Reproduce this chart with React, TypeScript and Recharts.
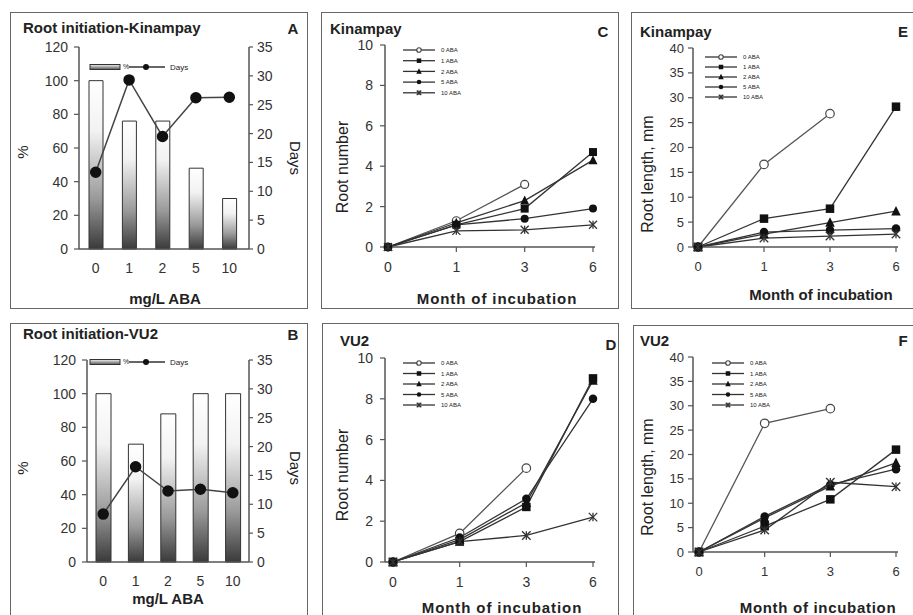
import React from 'react';
import { ComposedChart, LineChart, Line, Bar, XAxis, YAxis, Legend } from 'recharts';

const FONT = '"Liberation Sans", Arial, Helvetica, sans-serif';
const AXIS = '#555';
const TXT = '#222';

// ---- Panels A/B: root initiation ----
const abaLevels = ['0', '1', '2', '5', '10'];
const kinPct = [100, 76, 76, 48, 30];
const kinDays = [13.3, 29.3, 19.5, 26.2, 26.3];
const vu2Pct = [100, 70, 88, 100, 100];
const vu2Days = [8.3, 16.5, 12.3, 12.6, 12.0];
const pctTicks = [0, 20, 40, 60, 80, 100, 120];
const dayTicks = [0, 5, 10, 15, 20, 25, 30, 35];

// ---- Panels C-F ----
const months = ['0', '1', '3', '6'];
const seriesNames = ['0 ABA', '1 ABA', '2 ABA', '5 ABA', '10 ABA'];
const numTicks = [0, 2, 4, 6, 8, 10];
const lenTicks = [0, 5, 10, 15, 20, 25, 30, 35, 40];

// C: Kinampay root number
const kinNum0 = [0, 1.3, 3.1, null];
const kinNum1 = [0, 1.1, 1.9, 4.7];
const kinNum2 = [0, 1.2, 2.3, 4.3];
const kinNum5 = [0, 1.1, 1.4, 1.9];
const kinNum10 = [0, 0.8, 0.85, 1.1];
// D: VU2 root number
const vuNum0 = [0, 1.4, 4.6, null];
const vuNum1 = [0, 1.0, 2.7, 9.0];
const vuNum2 = [0, 1.1, 2.9, 8.9];
const vuNum5 = [0, 1.2, 3.1, 8.0];
const vuNum10 = [0, 1.0, 1.3, 2.2];
// E: Kinampay root length
const kinLen0 = [0, 16.6, 26.8, null];
const kinLen1 = [0, 5.7, 7.7, 28.2];
const kinLen2 = [0, 2.6, 4.9, 7.2];
const kinLen5 = [0, 3.0, 3.4, 3.7];
const kinLen10 = [0, 1.8, 2.2, 2.6];
// F: VU2 root length
const vuLen0 = [0, 26.4, 29.4, null];
const vuLen1 = [0, 5.3, 10.8, 21.0];
const vuLen2 = [0, 7.0, 13.5, 18.3];
const vuLen5 = [0, 7.3, 13.8, 17.0];
const vuLen10 = [0, 4.5, 14.3, 13.4];

type Shape = 'open' | 'square' | 'triangle' | 'circle' | 'star';
const shapes: Shape[] = ['open', 'square', 'triangle', 'circle', 'star'];

function drawMarker(shape: Shape, cx: number, cy: number, s: number, key: any) {
  const h = s / 2;
  switch (shape) {
    case 'open':
      return <circle key={key} cx={cx} cy={cy} r={h} fill="#fff" stroke="#444" strokeWidth={1.2} />;
    case 'square':
      return <rect key={key} x={cx - h} y={cy - h} width={s} height={s} fill="#111" />;
    case 'triangle':
      return <polygon key={key} points={`${cx},${cy - h - 1} ${cx + h + 0.5},${cy + h} ${cx - h - 0.5},${cy + h}`} fill="#111" />;
    case 'circle':
      return <circle key={key} cx={cx} cy={cy} r={h} fill="#111" />;
    default:
      return (
        <g key={key} stroke="#333" strokeWidth={1.3}>
          <line x1={cx - h} y1={cy - h} x2={cx + h} y2={cy + h} />
          <line x1={cx - h} y1={cy + h} x2={cx + h} y2={cy - h} />
          <line x1={cx} y1={cy - h} x2={cx} y2={cy + h} />
        </g>
      );
  }
}

function Txt({ x, y, children, size = 15, bold = false, rot = 0, anchor = 'center', spacing = 0 }: any) {
  const tx = anchor === 'center' ? '-50%' : anchor === 'end' ? '-100%' : '0';
  return (
    <div
      style={{
        position: 'absolute', left: x, top: y,
        transform: `translate(${tx},-50%) rotate(${rot}deg)`,
        fontFamily: FONT, fontSize: size, fontWeight: bold ? 700 : 400, color: TXT,
        whiteSpace: 'nowrap', letterSpacing: spacing, lineHeight: 1,
      }}
    >
      {children}
    </div>
  );
}

function Box({ x, y, w, h }: any) {
  return (
    <div style={{ position: 'absolute', left: x, top: y, width: w, height: h, border: '1.5px solid #666', boxSizing: 'border-box', pointerEvents: 'none' }} />
  );
}

const lineLegend = (rowGap: number, lineLen: number) => () => (
  <svg width={lineLen + 45} height={rowGap * 5 + 6} style={{ display: 'block', overflow: 'visible' }}>
    {seriesNames.map((n, i) => {
      const y = 3 + i * rowGap;
      return (
        <g key={n}>
          <line x1={0} x2={lineLen} y1={y} y2={y} stroke="#333" strokeWidth={1.3} />
          {drawMarker(shapes[i], lineLen / 2, y, 4.5, 'm' + i)}
          <text x={lineLen + 6} y={y} dy="0.35em" fontSize={6} fontFamily={FONT} fill="#222">{n}</text>
        </g>
      );
    })}
  </svg>
);

const barLegend = (gid: string) => () => (
  <svg width={110} height={12} style={{ display: 'block', overflow: 'visible' }}>
    <defs>
      <linearGradient id={gid} x1="0" y1="0" x2="0" y2="1">
        <stop offset="0" stopColor="#f4f4f4" />
        <stop offset="1" stopColor="#555" />
      </linearGradient>
    </defs>
    <rect x={0} y={3.5} width={30} height={5} fill={`url(#${gid})`} stroke="#333" strokeWidth={1} />
    <text x={33} y={6} dy="0.35em" fontSize={7} fontFamily={FONT} fill="#222">%</text>
    <line x1={39} x2={75} y1={6} y2={6} stroke="#333" strokeWidth={1.3} />
    <circle cx={56} cy={6} r={3} fill="#111" />
    <text x={80} y={6} dy="0.35em" fontSize={8} fontFamily={FONT} fill="#222">Days</text>
  </svg>
);

function InitPanel({ bx, by, w, h, pct, days, margin, gid, barSize, legendPos, xPad }: any) {
  const rows = abaLevels.map((a, i) => ({ aba: a, pct: pct[i], days: days[i] }));
  const tickStyle = { fontSize: 14, fontFamily: FONT, fill: '#333' };
  return (
    <div style={{ position: 'absolute', left: bx, top: by }}>
      <ComposedChart width={w} height={h} data={rows} margin={margin}>
        <defs>
          <linearGradient id={gid} x1="0" y1="0" x2="0" y2="1">
            <stop offset="0" stopColor="#ffffff" />
            <stop offset="0.3" stopColor="#f2f2f2" />
            <stop offset="0.7" stopColor="#9a9a9a" />
            <stop offset="1" stopColor="#3a3a3a" />
          </linearGradient>
        </defs>
        <XAxis dataKey="aba" height={30} tickLine={false} tickSize={5} tickMargin={9} padding={xPad}
          axisLine={{ stroke: AXIS, strokeWidth: 1.5 }} tick={tickStyle} interval={0} />
        <YAxis yAxisId="left" width={40} domain={[0, 120]} ticks={pctTicks} interval={0} tickSize={5} tickMargin={6}
          axisLine={{ stroke: AXIS, strokeWidth: 1.5 }} tickLine={{ stroke: AXIS, strokeWidth: 1.2 }} tick={tickStyle} />
        <YAxis yAxisId="right" orientation="right" width={40} domain={[0, 35]} ticks={dayTicks} interval={0} tickSize={4} tickMargin={4}
          axisLine={{ stroke: AXIS, strokeWidth: 1.5 }} tickLine={{ stroke: AXIS, strokeWidth: 1.2 }} tick={tickStyle} />
        <Bar yAxisId="left" dataKey="pct" barSize={barSize} fill={`url(#${gid})`} stroke="#333" strokeWidth={1} isAnimationActive={false} />
        <Line yAxisId="right" dataKey="days" stroke="#444" strokeWidth={1.5} dot={{ r: 5, fill: '#111', stroke: '#111' }} isAnimationActive={false} />
        <Legend layout="vertical" align="center" verticalAlign="middle" content={barLegend(gid + 'L')}
          wrapperStyle={{ left: legendPos[0], top: legendPos[1], width: 110, height: 12 }} />
      </ComposedChart>
    </div>
  );
}

function LinePanel({ bx, by, w, h, series, margin, xPad, yMax, ticks, tickFont, yTickGap, markerSize, legendPos, rowGap }: any) {
  const rows = months.map((m, i) => {
    const r: any = { month: m };
    series.forEach((s: any[], j: number) => { r['s' + j] = s[i]; });
    return r;
  });
  const tickStyle = { fontSize: tickFont, fontFamily: FONT, fill: '#333' };
  return (
    <div style={{ position: 'absolute', left: bx, top: by }}>
      <LineChart width={w} height={h} data={rows} margin={margin}>
        <XAxis dataKey="month" height={30} padding={xPad} tickSize={5} tickMargin={10} interval={0}
          axisLine={{ stroke: AXIS, strokeWidth: 1.5 }} tickLine={{ stroke: AXIS, strokeWidth: 1.2 }} tick={tickStyle} />
        <YAxis width={40} domain={[0, yMax]} ticks={ticks} interval={0} tickSize={5} tickMargin={yTickGap}
          axisLine={{ stroke: AXIS, strokeWidth: 1.5 }} tickLine={{ stroke: AXIS, strokeWidth: 1.2 }} tick={tickStyle} />
        {series.map((_: any, j: number) => (
          <Line key={j} dataKey={'s' + j} name={seriesNames[j]} stroke={j === 0 ? '#555' : '#333'} strokeWidth={1.3}
            isAnimationActive={false}
            dot={(p: any) => (p.value == null || p.cy == null || isNaN(p.cy))
              ? <g key={'d' + j + '-' + p.index} />
              : drawMarker(shapes[j], p.cx, p.cy, markerSize, 'd' + j + '-' + p.index)} />
        ))}
        <Legend layout="vertical" align="center" verticalAlign="middle" content={lineLegend(rowGap, 32)}
          wrapperStyle={{ left: legendPos[0], top: legendPos[1], width: 80, height: 60 }} />
      </LineChart>
    </div>
  );
}

export default function App() {
  return (
    <div style={{ position: 'absolute', left: 0, top: 0, width: 913, height: 615, background: '#fff', overflow: 'hidden' }}>
      {/* A */}
      <InitPanel bx={10} by={12} w={298} h={297} pct={kinPct} days={kinDays} gid="gA" barSize={14}
        margin={{ top: 35, left: 29, right: 19, bottom: 30 }} legendPos={[80, 49]} xPad={{ left: 0, right: 3 }} />
      {/* B */}
      <InitPanel bx={10} by={323} w={298} h={300} pct={vu2Pct} days={vu2Days} gid="gB" barSize={15}
        margin={{ top: 37, left: 37, right: 19, bottom: 31 }} legendPos={[80, 33]} xPad={{ left: 0, right: 0 }} />
      {/* C */}
      <LinePanel bx={321} by={12} w={298} h={297} series={[kinNum0, kinNum1, kinNum2, kinNum5, kinNum10]}
        margin={{ top: 33, left: 24, right: 24, bottom: 32 }} xPad={{ left: 3, right: 2 }} yMax={10} ticks={numTicks}
        tickFont={14} yTickGap={7} markerSize={8} legendPos={[82, 35]} rowGap={10.7} />
      {/* D */}
      <LinePanel bx={322} by={323} w={297} h={300} series={[vuNum0, vuNum1, vuNum2, vuNum5, vuNum10]}
        margin={{ top: 35, left: 23, right: 24, bottom: 31 }} xPad={{ left: 8, right: 2 }} yMax={10} ticks={numTicks}
        tickFont={14} yTickGap={7} markerSize={8.5} legendPos={[81, 37]} rowGap={10.5} />
      {/* E */}
      <LinePanel bx={631} by={12} w={290} h={297} series={[kinLen0, kinLen1, kinLen2, kinLen5, kinLen10]}
        margin={{ top: 36, left: 22, right: 23, bottom: 32 }} xPad={{ left: 5, right: 2 }} yMax={40} ticks={lenTicks}
        tickFont={13} yTickGap={4} markerSize={8.5} legendPos={[74, 42]} rowGap={10} />
      {/* F */}
      <LinePanel bx={633} by={325} w={290} h={300} series={[vuLen0, vuLen1, vuLen2, vuLen5, vuLen10]}
        margin={{ top: 32, left: 20, right: 25, bottom: 43 }} xPad={{ left: 6, right: 2 }} yMax={40} ticks={lenTicks}
        tickFont={13} yTickGap={4} markerSize={8.5} legendPos={[79, 35]} rowGap={10.5} />

      {/* Texts A */}
      <Txt x={23} y={27} bold anchor="start">Root initiation-Kinampay</Txt>
      <Txt x={293} y={28} bold>A</Txt>
      <Txt x={22} y={152} rot={-90}>%</Txt>
      <Txt x={295} y={158} rot={90}>Days</Txt>
      <Txt x={165} y={298} bold>mg/L ABA</Txt>
      {/* Texts B */}
      <Txt x={23} y={333} bold anchor="start">Root initiation-VU2</Txt>
      <Txt x={293} y={334} bold>B</Txt>
      <Txt x={22} y={468} rot={-90}>%</Txt>
      <Txt x={295} y={468} rot={90}>Days</Txt>
      <Txt x={168} y={598} bold>mg/L ABA</Txt>
      {/* Texts C */}
      <Txt x={330} y={28} bold anchor="start">Kinampay</Txt>
      <Txt x={603} y={31} bold>C</Txt>
      <Txt x={343} y={167} rot={-90} size={16}>Root number</Txt>
      <Txt x={497} y={298} bold spacing={0.9}>Month of incubation</Txt>
      {/* Texts D */}
      <Txt x={340} y={340} bold anchor="start">VU2</Txt>
      <Txt x={611} y={344} bold>D</Txt>
      <Txt x={343} y={475} rot={-90} size={16}>Root number</Txt>
      <Txt x={502} y={607} bold spacing={0.9}>Month of incubation</Txt>
      {/* Texts E */}
      <Txt x={640} y={31} bold anchor="start">Kinampay</Txt>
      <Txt x={903} y={31} bold>E</Txt>
      <Txt x={648} y={174} rot={-90} size={16}>Root length, mm</Txt>
      <Txt x={821} y={294} bold>Month of incubation</Txt>
      {/* Texts F */}
      <Txt x={640} y={340} bold anchor="start">VU2</Txt>
      <Txt x={903} y={340} bold>F</Txt>
      <Txt x={648} y={477} rot={-90} size={16}>Root length, mm</Txt>
      <Txt x={818} y={607} bold spacing={0.7}>Month of incubation</Txt>

      <Box x={10} y={12} w={298} h={297} />
      <Box x={10} y={323} w={298} h={320} />
      <Box x={321} y={12} w={298} h={297} />
      <Box x={322} y={323} w={297} h={320} />
      <Box x={631} y={12} w={300} h={297} />
      <Box x={633} y={325} w={300} h={320} />
    </div>
  );
}
